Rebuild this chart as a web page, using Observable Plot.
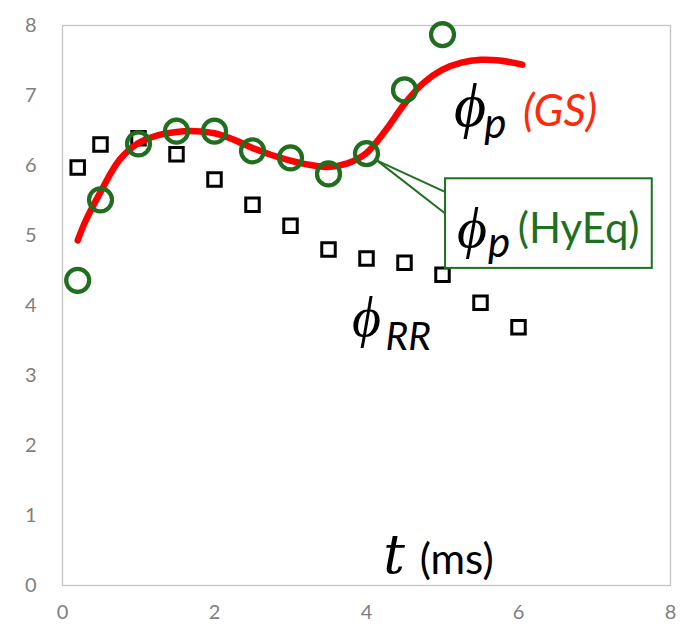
<!DOCTYPE html>
<html>
<head>
<meta charset="utf-8">
<script src="https://cdn.jsdelivr.net/npm/d3@7"></script>
<script src="https://cdn.jsdelivr.net/npm/@observablehq/plot@0.6"></script>
<style>
  html, body { margin: 0; padding: 0; background: #fff; }
</style>
</head>
<body>
<div id="chart"></div>
<script>
// phi_RR (squares)
const rrT = [0.2, 0.5, 1.0, 1.5, 2.0, 2.5, 3.0, 3.5, 4.0, 4.5, 5.0, 5.5, 6.0];
const rrV = [5.97, 6.30, 6.39, 6.16, 5.80, 5.44, 5.14, 4.80, 4.67, 4.61, 4.44, 4.04, 3.69];
// phi_p HyEq (circles)
const hyT = [0.2, 0.5, 1.0, 1.5, 2.0, 2.5, 3.0, 3.5, 4.0, 4.5, 5.0];
const hyV = [4.36, 5.51, 6.31, 6.49, 6.49, 6.21, 6.11, 5.88, 6.17, 7.08, 7.87];
// phi_p GS (red curve)
const gsT = [0.2, 0.3, 0.5, 0.75, 1.0, 1.25, 1.5, 1.75, 2.0, 2.25, 2.5, 2.75, 3.0, 3.25, 3.5, 3.75, 4.0, 4.25, 4.5, 4.75, 5.0, 5.25, 5.5, 5.75, 6.05];
const gsV = [4.93, 5.20, 5.62, 6.08, 6.32, 6.43, 6.48, 6.49, 6.46, 6.37, 6.25, 6.15, 6.07, 6.01, 5.98, 6.03, 6.18, 6.50, 6.88, 7.18, 7.37, 7.47, 7.51, 7.50, 7.44];
const xTicks = [0, 2, 4, 6, 8];
const yTicks = [0, 1, 2, 3, 4, 5, 6, 7, 8];

const rr = rrT.map((t, i) => ({t, v: rrV[i]}));
const hy = hyT.map((t, i) => ({t, v: hyV[i]}));
const gs = gsT.map((t, i) => ({t, v: gsV[i]}));

const green = "#1f6f1f";
const phiFont = "Liberation Serif";
const txtFont = "Lato";

const label = (s, x, y, o) => Plot.text([s], Object.assign({x, y, text: d => d, textAnchor: "start", lineAnchor: "bottom", fill: "#000"}, o));

const chart = Plot.plot({
  width: 683,
  height: 634,
  marginLeft: 62,
  marginTop: 25,
  marginRight: 13,
  marginBottom: 49,
  x: {domain: [0, 8]},
  y: {domain: [0, 8]},
  style: {fontFamily: txtFont, color: "#808080", background: "#fff"},
  marks: [
    Plot.frame({stroke: "#c4c4c4", strokeWidth: 1.3}),
    Plot.axisX({ticks: xTicks, tickSize: 0, tickPadding: 19, fontSize: 20, label: null, fill: "#808080"}),
    Plot.axisY({ticks: yTicks, tickSize: 0, tickPadding: 26, fontSize: 20, label: null, fill: "#808080"}),
    Plot.dot(rr, {x: "t", y: "v", symbol: "square", r: 7.6, stroke: "#000", strokeWidth: 3, fill: "#fff"}),
    Plot.line(gs, {x: "t", y: "v", curve: "catmull-rom", stroke: "#ff0000", strokeWidth: 6.5, strokeLinecap: "round"}),
    Plot.dot(hy, {x: "t", y: "v", r: 11.5, stroke: green, strokeWidth: 4.2, fill: "none"}),
    // callout
    Plot.link([{x1: 4.14, y1: 6.07, x2: 5.04, y2: 5.62}, {x1: 4.14, y1: 6.07, x2: 5.04, y2: 5.31}],
      {x1: "x1", y1: "y1", x2: "x2", y2: "y2", stroke: green, strokeWidth: 2}),
    Plot.rect([{x1: 5.04, x2: 7.76, y1: 4.53, y2: 5.81}],
      {x1: "x1", x2: "x2", y1: "y1", y2: "y2", fill: "#fff", stroke: green, strokeWidth: 2}),
    // phi_p (GS)
    label("ϕ", 5.15, 6.56, {fontFamily: phiFont, fontStyle: "italic", fontSize: 62}),
    label("p", 5.55, 6.40, {fontFamily: txtFont, fontStyle: "italic", fontSize: 42}),
    label("(GS)", 6.06, 6.57, {fontFamily: txtFont, fontStyle: "italic", fontSize: 44, fill: "#ff2a0a"}),
    // phi_p (HyEq)
    label("ϕ", 5.19, 4.83, {fontFamily: phiFont, fontStyle: "italic", fontSize: 58}),
    label("p", 5.60, 4.70, {fontFamily: txtFont, fontStyle: "italic", fontSize: 42}),
    label("(HyEq)", 5.99, 4.89, {fontFamily: txtFont, fontSize: 42, fill: green}),
    // phi_RR
    label("ϕ", 3.81, 3.56, {fontFamily: phiFont, fontStyle: "italic", fontSize: 56}),
    label("RR", 4.25, 3.37, {fontFamily: txtFont, fontStyle: "italic", fontSize: 39}),
    // t (ms)
    label("t", 4.22, 0.18, {fontFamily: "DejaVu Serif", fontStyle: "italic", fontSize: 54}),
    label("(ms)", 4.70, 0.16, {fontFamily: txtFont, fontSize: 42})
  ]
});
document.getElementById("chart").appendChild(chart);
</script>
</body>
</html>
